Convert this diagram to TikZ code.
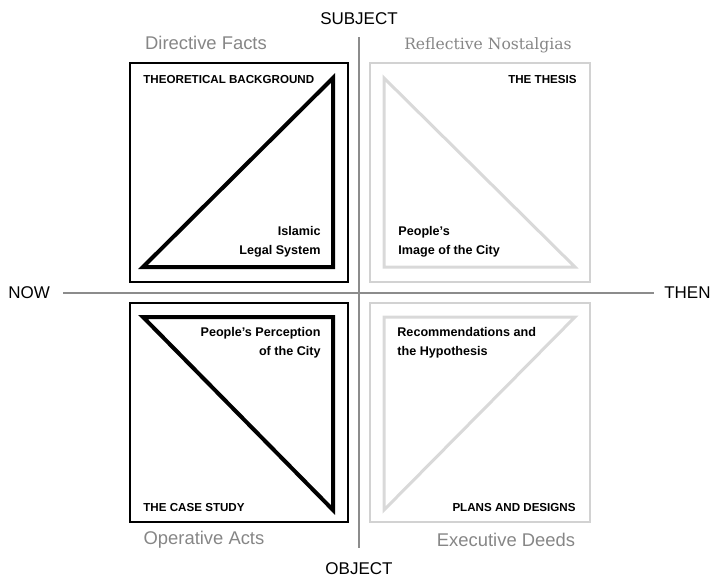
\documentclass[tikz,border=0pt]{standalone}
\usepackage{fontspec}
\setmainfont{Liberation Sans}
\newfontfamily\slabfont{DejaVu Serif}

\begin{document}
\begin{tikzpicture}[x=0.5pt,y=-0.5pt,
  axis/.style={line width=1pt,gray!90},
  axislabel/.style={font=\fontsize{8.5}{10}\selectfont,inner sep=1pt},
  quadlabel/.style={font=\fontsize{9.2}{11}\selectfont,text=gray!95,inner sep=0pt},
  frame/.style={line width=1pt},
  paleframe/.style={line width=1pt,gray!35},
  wedge/.style={line width=2pt,line join=miter},
  palewedge/.style={line width=1.5pt,gray!30,line join=miter},
  heading/.style={font=\bfseries\fontsize{5.8}{6}\selectfont,inner sep=0pt},
  note/.style={font=\bfseries\fontsize{6.3}{9.5}\selectfont,inner sep=0pt}]
  \useasboundingbox (0,0) rectangle (713,579);
  % axes
  \node[axislabel] (subject) at (359,19) {SUBJECT};
  \node[axislabel] (object) at (359,569) {OBJECT};
  \node[axislabel,anchor=west] (now) at (6,293) {NOW};
  \node[axislabel,anchor=east] (then) at (713,293) {THEN};
  \draw[axis,shorten <=5pt,shorten >=6.5pt] (subject) -- (object);
  \draw[axis,shorten <=5.5pt,shorten >=4pt] (now) -- (then);
  % quadrant frames
  \draw[frame] (130,63) rectangle (348,282);
  \draw[paleframe] (370,63) rectangle (590,282);
  \draw[frame] (130,303) rectangle (348,522);
  \draw[paleframe] (370,303) rectangle (590,522);
  % triangles
  \draw[wedge] (143,267) -- (333,78) -- (333,267) -- cycle;
  \draw[palewedge] (384,78) -- (575,267) -- (384,267) -- cycle;
  \draw[wedge] (143,317) -- (333,317) -- (333,510) -- cycle;
  \draw[palewedge] (384,317) -- (575,317) -- (384,510) -- cycle;
  % quadrant names
  \node[quadlabel] (directive) at (206,43) {Directive Facts};
  \node[quadlabel,font=\slabfont\fontsize{7.8}{9}\selectfont] (reflective) at (488,45) {Reflective Nostalgias};
  \node[quadlabel] (operative) at (204,540) {Operative Acts};
  \node[quadlabel] (executive) at (506,540) {Executive Deeds};
  % headings
  \node[heading,anchor=west] (background) at (143,80) {THEORETICAL BACKGROUND};
  \node[heading,anchor=east] (thesis) at (577,80) {THE THESIS};
  \node[heading,anchor=west] (casestudy) at (143,507) {THE CASE STUDY};
  \node[heading,anchor=east] (plans) at (576,507) {PLANS AND DESIGNS};
  % notes
  \node[note,anchor=east,align=right] (legal) at (321,242) {Islamic\\Legal System};
  \node[note,anchor=west,align=left] (image) at (398,242) {People's\\Image of the City};
  \node[note,anchor=east,align=right] (perception) at (321,343) {People's Perception\\of the City};
  \node[note,anchor=west,align=left] (hypothesis) at (397,343) {Recommendations and\\the Hypothesis};
\end{tikzpicture}
\end{document}
